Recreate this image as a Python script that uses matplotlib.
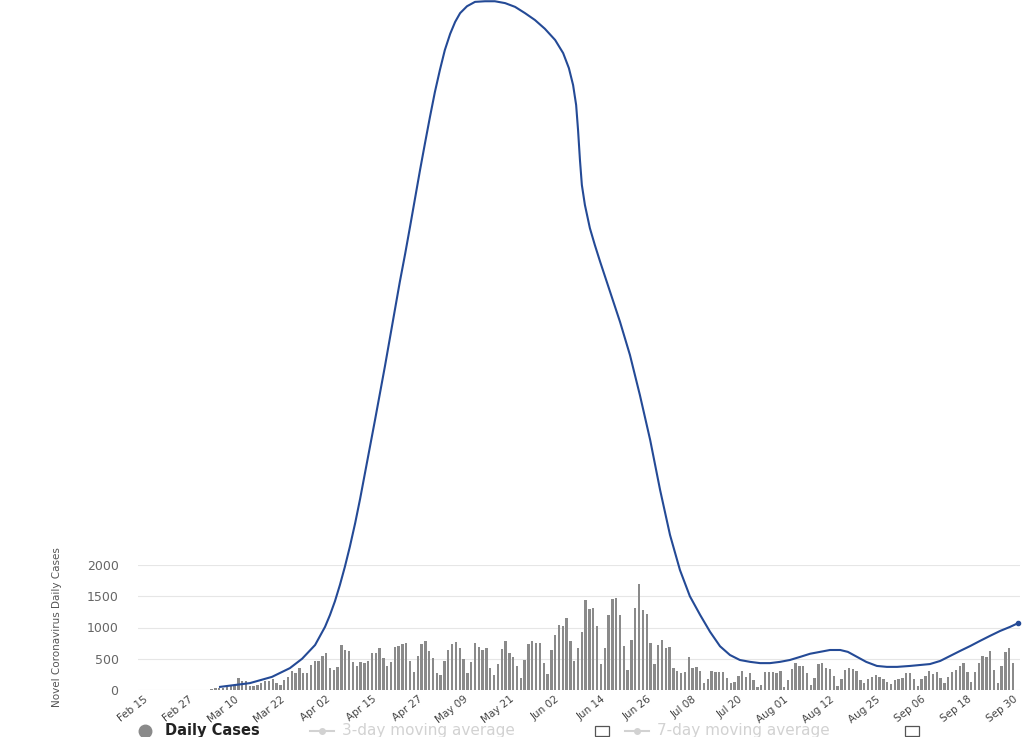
import matplotlib
matplotlib.use("Agg")
import matplotlib.pyplot as plt
from matplotlib.lines import Line2D
from matplotlib.patches import Rectangle

# x axis = days since Feb 15
tick_labels = ["Feb 15", "Feb 27", "Mar 10", "Mar 22", "Apr 02", "Apr 15", "Apr 27",
               "May 09", "May 21", "Jun 02", "Jun 14", "Jun 26", "Jul 08", "Jul 20",
               "Aug 01", "Aug 12", "Aug 25", "Sep 06", "Sep 18", "Sep 30"]
tick_days = [i * 12 for i in range(len(tick_labels))]

first_day = 18  # Mar 04
daily_cases = [
    20, 30, 30, 40, 50, 80, 80, 190, 150, 150, 65, 65, 80, 120, 150, 150, 170, 105, 85, 165,
    215, 310, 265, 350, 280, 270, 405, 460, 460, 540,
    585, 350, 320, 375, 725, 640, 630, 455, 380, 455, 425, 470, 585, 600, 670, 520, 380, 455,
    695, 700, 735, 760, 470, 295, 550, 735, 790, 620, 520, 280,
    245, 470, 645, 735, 775, 680, 495, 280, 450, 745, 695, 645, 680, 345, 245, 415, 655, 790,
    600, 535, 390, 200, 485, 735, 790, 760, 760, 425, 255, 640, 885,
    1040, 1030, 1145, 785, 465, 665, 935, 1440, 1290, 1320, 1030, 415, 675, 1200, 1455, 1480,
    1200, 705, 320, 800, 1305, 1690, 1280, 1210, 745, 415, 720, 800, 680, 695,
    355, 310, 275, 295, 535, 345, 375, 305, 115, 175, 305, 295, 285, 285, 185, 115, 135, 225,
    305, 215, 265, 160, 45, 80, 285, 295, 295, 265, 305,
    45, 160, 335, 425, 385, 385, 265, 80, 200, 415, 435, 355, 335, 225, 65, 175, 320, 355,
    335, 305, 160, 105, 175, 215, 240, 215, 175, 125, 95, 160,
    175, 200, 275, 265, 170, 65, 175, 225, 310, 255, 295, 200, 105, 215, 295, 320, 385, 435,
    285, 135, 295, 435, 550, 535, 625, 320, 115, 385, 615, 680, 435,
]
days = list(range(first_day, first_day + len(daily_cases)))

# the blue curve (runs far above the axes in the original)
curve_days = [20.2, 28.0, 33.8, 38.5, 41.7, 45.1, 47.7, 49.0, 50.3, 51.6, 52.9,
              54.2, 55.6, 56.9, 58.2, 59.5, 60.8, 62.1, 63.4, 64.7, 66.0,
              67.3, 68.7, 70.0, 71.3, 72.6, 73.9, 75.2, 76.5, 77.8, 79.1,
              80.5, 81.8, 83.1, 84.9, 87.0, 89.6, 92.2, 94.9, 97.5, 100.1,
              102.7, 105.3, 108.0, 110.1, 111.6, 112.7, 113.5, 114.0, 114.5, 115.0,
              115.8, 117.1, 118.4, 119.8, 122.4, 125.0, 127.6, 130.2, 132.9, 135.5,
              138.1, 140.7, 143.3, 146.0, 148.6, 151.2, 153.8, 156.4, 159.1, 161.7,
              164.3, 166.9, 169.5, 172.2, 174.8, 177.4, 180.0, 182.7, 184.7, 187.1,
              189.5, 192.3, 194.9, 197.6, 201.0, 203.6, 206.2, 208.9, 211.5, 214.1,
              216.8, 219.3, 221.9, 224.6, 227.2, 229.3]
curve_vals = [50, 110, 210, 350, 500, 720, 1010, 1200, 1420, 1680, 1970,
              2290, 2670, 3060, 3480, 3900, 4320, 4750, 5180, 5630, 6080,
              6530, 6980, 7420, 7870, 8320, 8750, 9170, 9570, 9920, 10240,
              10500, 10690, 10830, 10940, 11010, 11020, 11020, 10990, 10930, 10830,
              10720, 10580, 10400, 10190, 9950, 9680, 9360, 8960, 8480, 8080,
              7760, 7390, 7120, 6850, 6370, 5890, 5360, 4720, 4000, 3200,
              2480, 1920, 1500, 1200, 930, 700, 560, 480, 450, 430,
              430, 450, 480, 530, 580, 610, 640, 640, 610, 530,
              450, 385, 370, 370, 385, 400, 415, 465, 545, 625,
              705, 785, 865, 945, 1010, 1070]

fig = plt.figure(figsize=(10.24, 7.37), dpi=100)
ax = fig.add_axes([138 / 1024, 47 / 737, 882 / 1024, 125 / 737])

ax.bar(days, daily_cases, width=0.62, color='#8a8a8a', zorder=2)
ax.plot(curve_days, curve_vals, color='#244a96', linewidth=1.5, clip_on=False, zorder=5,
        solid_joinstyle='round')
ax.plot(curve_days[-1], curve_vals[-1], 'o', color='#244a96', markersize=3, clip_on=False, zorder=6)

ax.set_xlim(-1.3, 229.8)
ax.set_ylim(0, 2000)
ax.set_yticks([0, 500, 1000, 1500, 2000])
ax.set_yticklabels(["0", "500", "1000", "1500", "2000"], fontsize=9, color='#666666')
ax.set_xticks(tick_days)
ax.set_xticklabels(tick_labels, rotation=38, ha='right', rotation_mode='anchor',
                   fontsize=7.5, color='#444444')
ax.tick_params(axis='y', length=0, pad=14)
ax.tick_params(axis='x', length=0, pad=3)
ax.grid(axis='y', color='#e6e6e6', linewidth=0.8, zorder=0)
ax.set_axisbelow(True)
for s in ax.spines.values():
    s.set_visible(False)

fig.text(57 / 1024, 1 - 627 / 737, "Novel Coronavirus Daily Cases", rotation=90,
         ha='center', va='center', fontsize=7.5, color='#555555',
         family=['Liberation Sans Narrow', 'DejaVu Sans'])

# legend row along the bottom
ly = 1 - 731 / 737
fig.add_artist(Line2D([145 / 1024], [ly], marker='o', markersize=9, color='#8a8a8a',
                      transform=fig.transFigure))
fig.text(165 / 1024, ly, "Daily Cases", fontsize=10.5, fontweight='bold', color='#222222',
         va='center')
for x0, txt, bx in [(310, "3-day moving average", 595), (625, "7-day moving average", 905)]:
    fig.add_artist(Line2D([x0 / 1024, (x0 + 24) / 1024], [ly, ly], color='#d2d2d2',
                          linewidth=1.5, transform=fig.transFigure))
    fig.add_artist(Line2D([(x0 + 12) / 1024], [ly], marker='o', markersize=4, color='#d2d2d2',
                          transform=fig.transFigure))
    fig.text((x0 + 32) / 1024, ly, txt, fontsize=11, color='#d2d2d2', va='center')
    fig.add_artist(Rectangle((bx / 1024, ly - 5 / 737), 14 / 1024, 10 / 737, fill=False,
                             edgecolor='#555555', linewidth=0.9, transform=fig.transFigure))

fig.savefig("out.png", dpi=100)
